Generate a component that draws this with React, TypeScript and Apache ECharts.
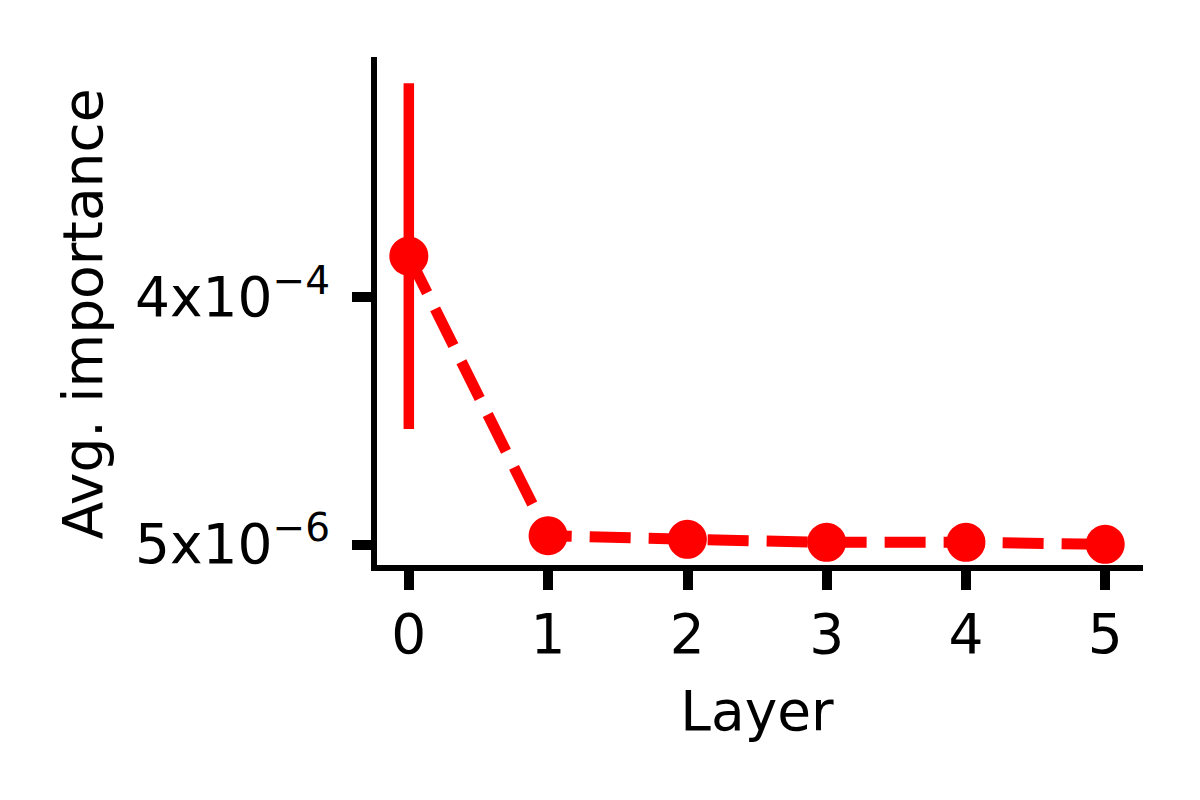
import React, { useEffect, useRef } from "react";
import * as echarts from "echarts";

const layers = [0, 1, 2, 3, 4, 5];
const avgImportance = [4.65e-4, 1.87e-5, 1.3e-5, 8.2e-6, 8.2e-6, 5.0e-6];
const importanceError = [2.76e-4, 0, 0, 0, 0, 0];
const xTickValues = [0, 1, 2, 3, 4, 5];
const yTickValues = [5e-6, 4e-4];
const yTickMantissas = ["5x10", "4x10"];
const yTickExponents = ["\u22126", "\u22124"];
const xAxisTitle = "Layer";
const yAxisTitle = "Avg. importance";

export default function App() {
  const ref = useRef<HTMLDivElement>(null);
  useEffect(() => {
    const chart = echarts.init(ref.current!, null, { renderer: "svg" });
    const FONT = "DejaVu Sans";
    const RED = "#ff0000";
    chart.setOption({
      animation: false,
      backgroundColor: "#ffffff",
      grid: { left: 374, right: 60, top: 60, bottom: 232, containLabel: false },
      xAxis: {
        type: "value",
        min: -0.25,
        max: 5.25,
        name: xAxisTitle,
        nameLocation: "middle",
        nameGap: 115,
        nameTextStyle: { fontFamily: FONT, fontSize: 55, color: "#000" },
        axisLine: { show: true, onZero: false, lineStyle: { color: "#000", width: 6, cap: "square" } },
        axisTick: { show: true, customValues: xTickValues, length: 22, lineStyle: { color: "#000", width: 10 } },
        axisLabel: {
          customValues: xTickValues,
          margin: 38,
          fontFamily: FONT,
          fontSize: 55,
          color: "#000",
          formatter: (v: number) => String(Math.round(v)),
        },
        splitLine: { show: false },
      },
      yAxis: {
        type: "value",
        min: -3.28e-5,
        max: 7.78e-4,
        name: yAxisTitle,
        nameLocation: "middle",
        nameRotate: 90,
        nameGap: 264,
        nameTextStyle: { fontFamily: FONT, fontSize: 55, color: "#000" },
        axisLine: { show: true, onZero: false, lineStyle: { color: "#000", width: 6, cap: "square" } },
        axisTick: { show: true, customValues: yTickValues, length: 22, lineStyle: { color: "#000", width: 10 } },
        axisLabel: {
          customValues: yTickValues,
          margin: 44,
          color: "#000",
          formatter: (v: number) => {
            let idx = 0;
            let best = Infinity;
            yTickValues.forEach((t, i) => {
              const d = Math.abs(t - v);
              if (d < best) {
                best = d;
                idx = i;
              }
            });
            return `{m|${yTickMantissas[idx]}}{e|${yTickExponents[idx]}}`;
          },
          rich: {
            m: { fontFamily: FONT, fontSize: 55, lineHeight: 72, color: "#000" },
            e: { fontFamily: FONT, fontSize: 39, lineHeight: 39, verticalAlign: "top", color: "#000" },
          },
        },
        splitLine: { show: false },
      },
      series: [
        {
          type: "custom",
          encode: { x: 0, y: [1, 2] },
          data: layers.map((x, i) => [x, avgImportance[i] - importanceError[i], avgImportance[i] + importanceError[i]]),
          renderItem: (params: any, api: any) => {
            const x = api.value(0);
            const p1 = api.coord([x, api.value(1)]);
            const p2 = api.coord([x, api.value(2)]);
            return {
              type: "line",
              shape: { x1: p1[0], y1: p1[1], x2: p2[0], y2: p2[1] },
              style: { stroke: RED, lineWidth: 10.5 },
            };
          },
          z: 2,
        },
        {
          type: "line",
          data: layers.map((x, i) => [x, avgImportance[i]]),
          symbol: "circle",
          symbolSize: 39,
          showSymbol: true,
          lineStyle: { color: RED, width: 11, type: [41, 18] },
          itemStyle: { color: RED },
          z: 3,
        },
      ],
    });
    return () => chart.dispose();
  }, []);
  return <div ref={ref} style={{ position: "fixed", left: 0, top: 0, width: 1200, height: 800 }} />;
}
